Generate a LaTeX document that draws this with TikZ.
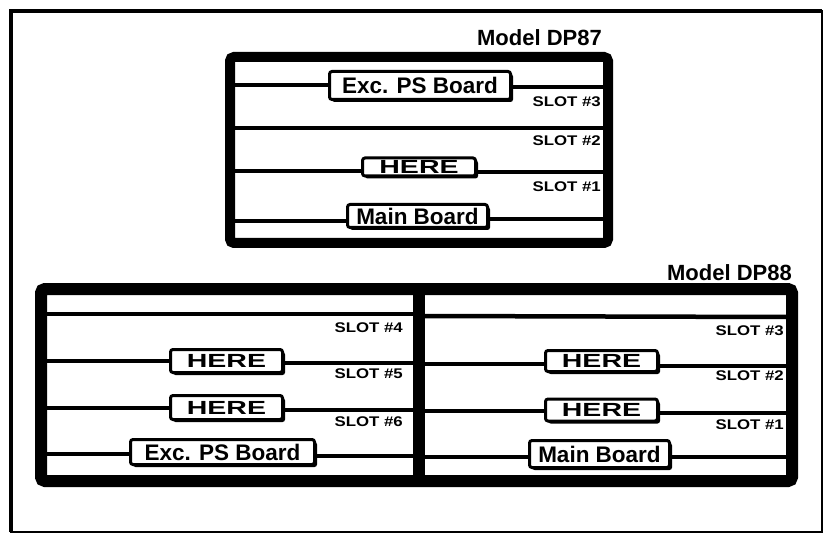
\documentclass[tikz,border=0pt]{standalone}
\usepackage{fontspec}
\usepackage{graphicx}
\setmainfont{Liberation Sans}
\usetikzlibrary{shadows}
\begin{document}
\begin{tikzpicture}[x=1pt,y=-1pt,
  boardbox/.style={draw, line width=3pt, fill=white, rounded corners=2.5pt, inner sep=0pt,
    text depth=0pt,
    drop shadow={shadow xshift=2.5pt, shadow yshift=-2.5pt, fill=black, opacity=1}},
  bigtxt/.style={font=\bfseries\fontsize{22.5}{24}\selectfont, text height=16.1pt},
  heretxt/.style={font=\bfseries\fontsize{19}{21}\selectfont, text height=13.6pt},
  slotlbl/.style={font=\bfseries\fontsize{14}{15}\selectfont, inner sep=0pt, anchor=east},
  modellbl/.style={font=\bfseries\fontsize{22}{24}\selectfont, inner sep=0pt, anchor=base east},
  slotline/.style={line width=4.5pt},
  frameline/.style={line width=#1, rounded corners=4pt},
]
\useasboundingbox (0,0) rectangle (824,537);
% outer frame
\draw[line width=2pt] (11,11) rectangle (822,532);
\draw[line width=4pt] (11,532) -- (11,11) -- (822,11);

% ===== Model DP87 =====
\node[modellbl] (t87) at (602,46) {Model DP87};
\draw[frameline=10pt] (230,57) rectangle (608,243);
% slot lines
\coordinate (l87a) at (235,85);  \coordinate (r87a) at (603,87);
\coordinate (l87b) at (235,128); \coordinate (r87b) at (603,128);
\coordinate (l87c) at (235,171); \coordinate (r87c) at (603,172);
\coordinate (l87d) at (235,221); \coordinate (r87d) at (603,219);
\draw[slotline] (l87b) -- (r87b);
\node[boardbox, bigtxt, minimum width=181, minimum height=28] (e87) at (420,85.5) {Exc. PS Board};
\node[boardbox, heretxt, minimum width=113, minimum height=18] (h87) at (419,167) {\scalebox{1.5}[1]{HERE}};
\node[boardbox, bigtxt, minimum width=140, minimum height=23] (m87) at (417.5,216) {Main Board};
\draw[slotline] (l87a) -- (l87a -| e87.west);
\draw[slotline] (e87.east |- r87a) -- (r87a);
\draw[slotline] (l87c) -- (l87c -| h87.west);
\draw[slotline] (h87.east |- r87c) -- (r87c);
\draw[slotline] (l87d) -- (l87d -| m87.west);
\draw[slotline] (m87.east |- r87d) -- (r87d);
\node[slotlbl] (s87c) at (601,102) {\scalebox{1.2}[1]{SLOT \#3}};
\node[slotlbl] (s87b) at (601,141) {\scalebox{1.2}[1]{SLOT \#2}};
\node[slotlbl] (s87a) at (601,187) {\scalebox{1.2}[1]{SLOT \#1}};

% ===== Model DP88 =====
\node[modellbl] (t88) at (792,280) {Model DP88};
\draw[frameline=12pt] (41,289) rectangle (792,481);
\draw[line width=12pt] (419,289) -- (419,481);
% left half
\coordinate (lla) at (47,314);  \coordinate (lra) at (413,314);
\coordinate (llb) at (47,361);  \coordinate (lrb) at (413,363);
\coordinate (llc) at (47,408);  \coordinate (lrc) at (413,410);
\coordinate (lld) at (47,454);  \coordinate (lrd) at (413,456);
\draw[slotline] (lla) -- (lra);
\node[boardbox, heretxt, minimum width=112, minimum height=23] (h88a) at (226.5,361) {\scalebox{1.5}[1]{HERE}};
\node[boardbox, heretxt, minimum width=112, minimum height=24] (h88b) at (226.5,407.5) {\scalebox{1.5}[1]{HERE}};
\node[boardbox, bigtxt, minimum width=184, minimum height=25] (e88) at (222.5,452) {Exc. PS Board};
\draw[slotline] (llb) -- (llb -| h88a.west);
\draw[slotline] (h88a.east |- lrb) -- (lrb);
\draw[slotline] (llc) -- (llc -| h88b.west);
\draw[slotline] (h88b.east |- lrc) -- (lrc);
\draw[slotline] (lld) -- (lld -| e88.west);
\draw[slotline] (e88.east |- lrd) -- (lrd);
\node[slotlbl] (s88d) at (403,328) {\scalebox{1.2}[1]{SLOT \#4}};
\node[slotlbl] (s88e) at (403,374) {\scalebox{1.2}[1]{SLOT \#5}};
\node[slotlbl] (s88f) at (403,422) {\scalebox{1.2}[1]{SLOT \#6}};
% right half
\coordinate (rla) at (425,316); \coordinate (rra) at (786,317);
\coordinate (rlb) at (425,364); \coordinate (rrb) at (786,366);
\coordinate (rlc) at (425,411); \coordinate (rrc) at (786,413);
\coordinate (rld) at (425,457); \coordinate (rrd) at (786,457);
\draw[slotline] (rla) -- (rra);
\node[boardbox, heretxt, minimum width=112, minimum height=21] (h88c) at (601.5,361) {\scalebox{1.5}[1]{HERE}};
\node[boardbox, heretxt, minimum width=112, minimum height=22] (h88d) at (601.5,410) {\scalebox{1.5}[1]{HERE}};
\node[boardbox, bigtxt, minimum width=140, minimum height=27] (m88) at (599.5,454) {Main Board};
\draw[slotline] (rlb) -- (rlb -| h88c.west);
\draw[slotline] (h88c.east |- rrb) -- (rrb);
\draw[slotline] (rlc) -- (rlc -| h88d.west);
\draw[slotline] (h88d.east |- rrc) -- (rrc);
\draw[slotline] (rld) -- (rld -| m88.west);
\draw[slotline] (m88.east |- rrd) -- (rrd);
\node[slotlbl] (s88c) at (784,331) {\scalebox{1.2}[1]{SLOT \#3}};
\node[slotlbl] (s88b) at (784,376) {\scalebox{1.2}[1]{SLOT \#2}};
\node[slotlbl] (s88a) at (784,425) {\scalebox{1.2}[1]{SLOT \#1}};
\end{tikzpicture}
\end{document}
